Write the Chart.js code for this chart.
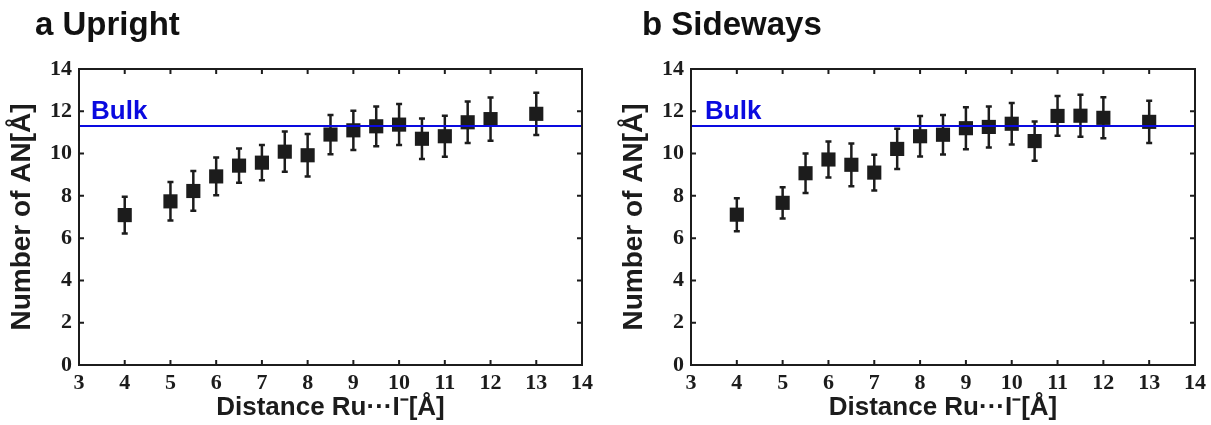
<!DOCTYPE html>
<html>
<head>
<meta charset="utf-8">
<script src="https://cdn.jsdelivr.net/npm/chart.js@4.4.1/dist/chart.umd.min.js"></script>
<style>
  body { margin: 0; background: #fff; }
  canvas { position: absolute; top: 0; }
  #upright { left: 0; }
  #sideways { left: 605px; }
</style>
</head>
<body>
<canvas id="upright" width="605" height="425"></canvas>
<canvas id="sideways" width="606" height="425"></canvas>
<script>
// Distancias Ru...I (Å)
const distances = [4, 5, 5.5, 6, 6.5, 7, 7.5, 8, 8.5, 9, 9.5, 10, 10.5, 11, 11.5, 12, 13];

// Panel a: Upright
const uprightMean = [7.09, 7.74, 8.23, 8.92, 9.43, 9.57, 10.09, 9.92, 10.9, 11.1, 11.29, 11.37, 10.7, 10.82, 11.48, 11.63, 11.88];
const uprightErr  = [0.87, 0.91, 0.94, 0.89, 0.81, 0.83, 0.95, 1.0, 0.93, 0.93, 0.94, 0.97, 0.96, 0.97, 0.98, 1.02, 1.0];

// Panel b: Sideways
const sidewaysMean = [7.11, 7.67, 9.07, 9.72, 9.47, 9.1, 10.22, 10.82, 10.89, 11.2, 11.26, 11.41, 10.59, 11.78, 11.79, 11.69, 11.5];
const sidewaysErr  = [0.78, 0.74, 0.93, 0.85, 1.01, 0.85, 0.95, 0.96, 0.93, 0.99, 0.97, 0.98, 0.93, 0.94, 0.99, 0.97, 1.0];

// Valor bulk
const bulkValue = 11.3;
const xRange = [3, 14];
const yRange = [0, 14];

const INK = '#1c1c1c';
const BLUE = '#0a0ae0';

// Plugin: barras de error, marco con ticks hacia dentro, etiqueta Bulk y titulo del panel
const panelPlugin = {
    id: 'panel',
    beforeDatasetsDraw(chart) {
        const ctx = chart.ctx;
        const xs = chart.scales.x, ys = chart.scales.y;
        const ds = chart.data.datasets[1];
        ctx.save();
        ctx.strokeStyle = INK;
        ctx.lineWidth = 2.5;
        ds.data.forEach((p, i) => {
            const e = ds.errors[i];
            const px = xs.getPixelForValue(p.x);
            const top = ys.getPixelForValue(p.y + e);
            const bot = ys.getPixelForValue(p.y - e);
            ctx.beginPath();
            ctx.moveTo(px, top); ctx.lineTo(px, bot);
            ctx.moveTo(px - 3, top); ctx.lineTo(px + 3, top);
            ctx.moveTo(px - 3, bot); ctx.lineTo(px + 3, bot);
            ctx.stroke();
        });
        ctx.restore();
    },
    afterDraw(chart, args, opts) {
        const ctx = chart.ctx;
        const a = chart.chartArea;
        const xs = chart.scales.x, ys = chart.scales.y;
        ctx.save();
        // marco
        ctx.strokeStyle = INK;
        ctx.lineWidth = 2;
        ctx.strokeRect(a.left, a.top, a.right - a.left, a.bottom - a.top);
        // ticks hacia dentro
        ctx.beginPath();
        xs.ticks.forEach(t => {
            const px = xs.getPixelForValue(t.value);
            ctx.moveTo(px, a.bottom); ctx.lineTo(px, a.bottom - 5);
            ctx.moveTo(px, a.top); ctx.lineTo(px, a.top + 5);
        });
        ys.ticks.forEach(t => {
            const py = ys.getPixelForValue(t.value);
            ctx.moveTo(a.left, py); ctx.lineTo(a.left + 5, py);
            ctx.moveTo(a.right, py); ctx.lineTo(a.right - 5, py);
        });
        ctx.stroke();
        // etiqueta Bulk
        ctx.fillStyle = BLUE;
        ctx.font = 'bold 26px "Liberation Sans", Arial, sans-serif';
        ctx.textBaseline = 'alphabetic';
        ctx.fillText('Bulk', a.left + opts.bulkDx, ys.getPixelForValue(bulkValue) - 7);
        // titulo del panel
        ctx.fillStyle = '#111';
        ctx.font = 'bold 33px "Liberation Sans", Arial, sans-serif';
        ctx.fillText(opts.title, opts.titleX, 35);
        ctx.restore();
    }
};

function makeChart(id, title, means, errs, layoutPad, titleX, bulkDx) {
    const points = distances.map((d, i) => ({ x: d, y: means[i] }));
    return new Chart(document.getElementById(id), {
        type: 'scatter',
        data: {
            datasets: [
                {
                    type: 'line',
                    label: 'Bulk',
                    data: [{ x: xRange[0], y: bulkValue }, { x: xRange[1], y: bulkValue }],
                    borderColor: BLUE,
                    borderWidth: 2,
                    pointRadius: 0,
                    fill: false
                },
                {
                    label: title,
                    data: points,
                    errors: errs,
                    pointStyle: 'rect',
                    pointRadius: 10,
                    pointHoverRadius: 10,
                    backgroundColor: INK,
                    borderColor: INK,
                    borderWidth: 0
                }
            ]
        },
        options: {
            responsive: false,
            animation: false,
            layout: { padding: layoutPad },
            plugins: {
                legend: { display: false },
                tooltip: { enabled: false },
                panel: { title: title, titleX: titleX, bulkDx: bulkDx }
            },
            scales: {
                x: {
                    type: 'linear',
                    min: xRange[0], max: xRange[1],
                    grid: { display: false, drawTicks: false },
                    border: { display: false },
                    ticks: {
                        stepSize: 1, padding: 5, color: INK,
                        font: { family: '"Liberation Serif", "Times New Roman", serif', weight: 'bold', size: 22 }
                    },
                    title: {
                        display: true,
                        text: 'Distance Ru···I⁻[Å]',
                        color: INK,
                        padding: { top: 0, bottom: 2 },
                        font: { family: '"Liberation Sans", Arial, sans-serif', weight: 'bold', size: 26 }
                    },
                    afterFit(scale) { scale.height = 60; }
                },
                y: {
                    min: yRange[0], max: yRange[1],
                    grid: { display: false, drawTicks: false },
                    border: { display: false },
                    ticks: {
                        stepSize: 2, padding: 7, color: INK,
                        font: { family: '"Liberation Serif", "Times New Roman", serif', weight: 'bold', size: 22 }
                    },
                    title: {
                        display: true,
                        text: 'Number of AN[Å]',
                        color: INK,
                        padding: { top: 1, bottom: 0 },
                        font: { family: '"Liberation Sans", Arial, sans-serif', weight: 'bold', size: 28 }
                    },
                    afterFit(scale) { scale.width = 75; }
                }
            }
        },
        plugins: [panelPlugin]
    });
}

makeChart('upright', 'a Upright', uprightMean, uprightErr,
    { left: 4, right: 23, top: 69, bottom: 0 }, 35, 12);
makeChart('sideways', 'b Sideways', sidewaysMean, sidewaysErr,
    { left: 11, right: 15, top: 69, bottom: 0 }, 37, 14);
</script>
</body>
</html>
